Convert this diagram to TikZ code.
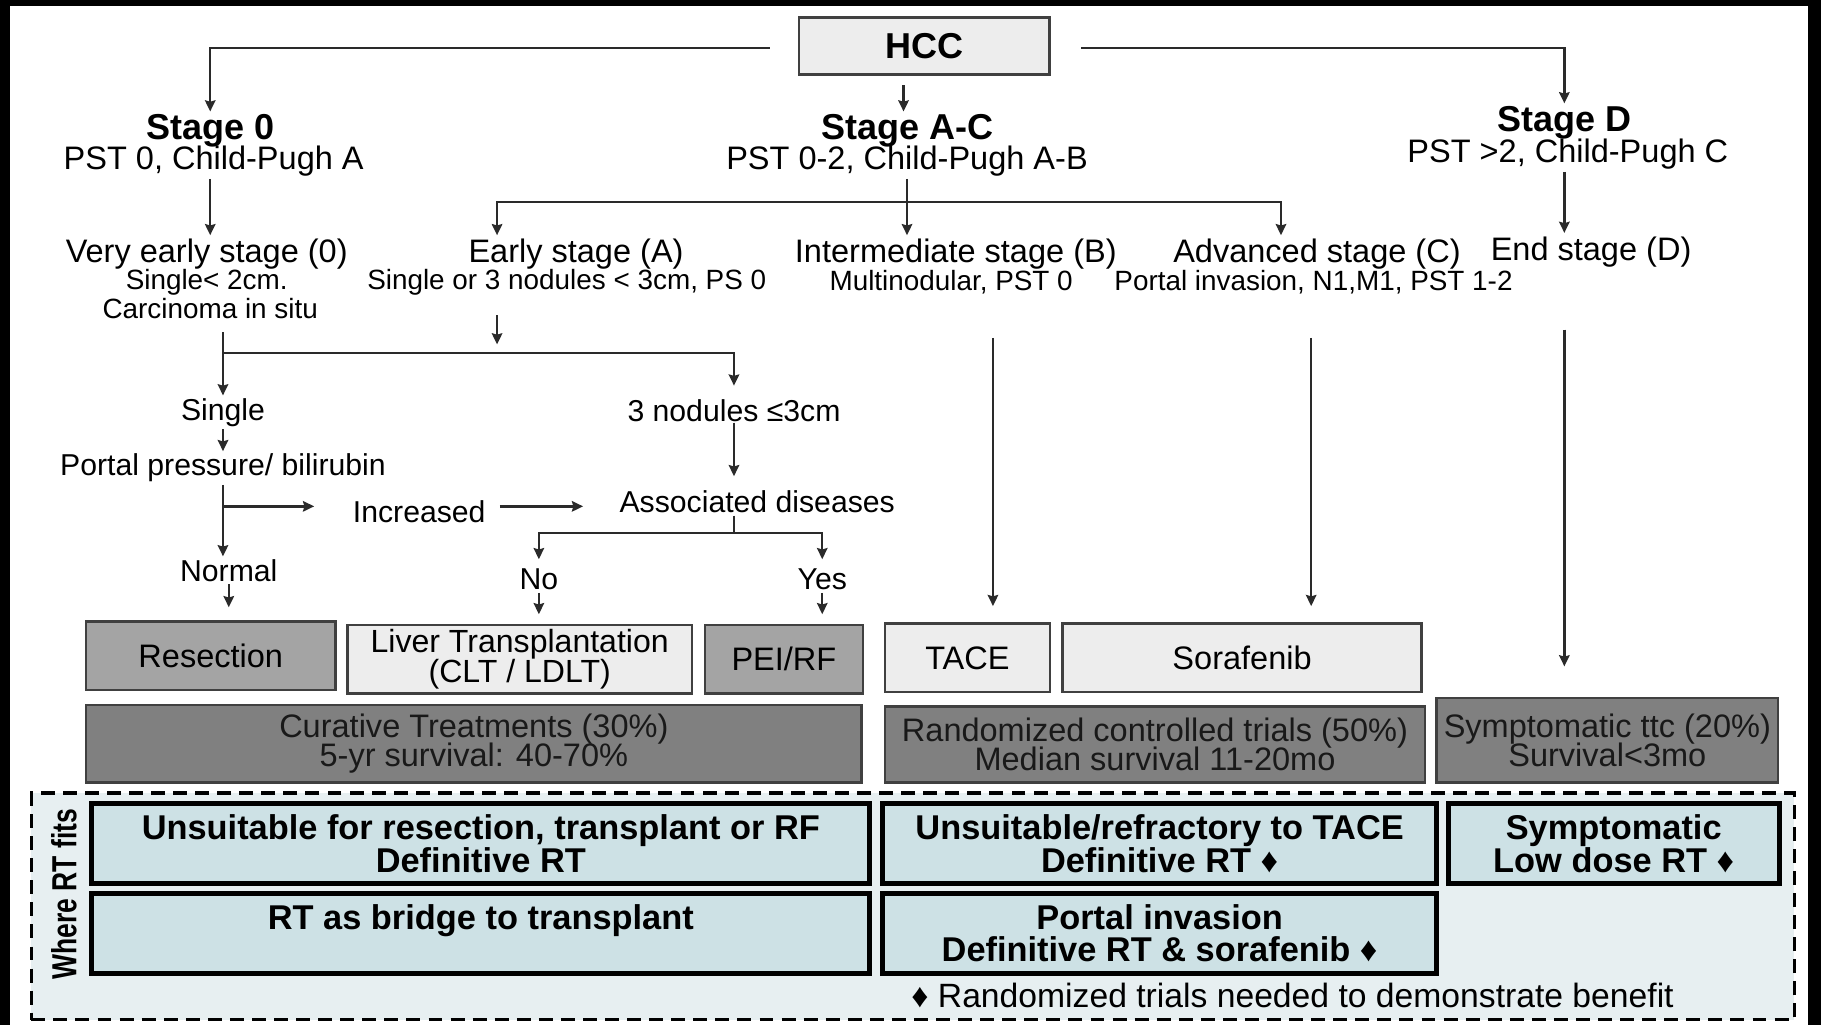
\documentclass[tikz,border=0pt]{standalone}
\usepackage{fontspec}
\setmainfont{Liberation Sans}
\usetikzlibrary{arrows.meta,calc}
\definecolor{linec}{HTML}{2A2A2A}
\definecolor{boxline}{HTML}{404040}
\definecolor{lightfill}{HTML}{EDEDED}
\definecolor{midfill}{HTML}{A4A4A4}
\definecolor{darkfill}{HTML}{808080}
\definecolor{rtfill}{HTML}{CDE1E5}
\definecolor{contfill}{HTML}{E7EFF1}
\newcommand\mytightlines{\lineskiplimit=-20pt\relax}
\begin{document}
\begin{tikzpicture}[x=0.5pt,y=-0.5pt,
  arr/.style={draw=linec, line width=1pt, -{Stealth[length=4.8pt,width=4.5pt,inset=0.6pt]}},
  ln/.style={draw=linec, line width=1pt},
  txt/.style={inner sep=0pt, text=black},
  big/.style={font=\fontsize{14}{16}\selectfont},
  sm/.style={font=\fontsize{12}{14}\selectfont},
  mid/.style={font=\fontsize{13}{15}\selectfont},
  ttl/.style={font=\bfseries\fontsize{15.5}{18}\selectfont},
  tbox/.style={draw=boxline, line width=1.1pt, minimum height=29.5pt, inner sep=0pt, align=center, font=\fontsize{14}{12}\selectfont\mytightlines},
  sbox/.style={draw=boxline, fill=darkfill, line width=1.2pt, inner sep=0pt, align=center, text=black!90, font=\fontsize{14}{12.5}\selectfont\mytightlines},
  rtbox/.style={draw=black, fill=rtfill, line width=2.2pt, minimum height=34.5pt, inner sep=0pt, align=center, font=\bfseries\fontsize{14.8}{14}\selectfont\mytightlines},
]
\useasboundingbox (0,0) rectangle (1568,883);
\fill[white] (0,0) rectangle (1568,883);
\fill[black] (0,0) rectangle (9,883);
\fill[black] (0,0) rectangle (1568,5);
\fill[black] (1557,0) rectangle (1568,883);

% top
\node[draw=boxline, fill=lightfill, line width=1.2pt, minimum width=108pt, minimum height=24.5pt, inner sep=0pt, font=\bfseries\fontsize{15.5}{18}\selectfont] (hcc) at (796,39.5) {HCC};

\node[txt,ttl] (stage0) at (181,112.5) {Stage 0};
\node[txt,big] (pst0) at (184,138.5) {PST 0, Child-Pugh A};
\node[txt,ttl] (stageAC) at (781,112.5) {Stage A-C};
\node[txt,big] (pstAC) at (781,138.5) {PST 0-2, Child-Pugh A-B};
\node[txt,ttl] (stageD) at (1347,105.5) {Stage D};
\node[txt,big] (pstD) at (1350,132.5) {PST >2, Child-Pugh C};

\node[txt,big] (vearly) at (178,219) {Very early stage (0)};
\node[txt,sm] (vearly2) at (178,243) {Single< 2cm.};
\node[txt,sm] (carc) at (181,266) {Carcinoma in situ};
\node[txt,big] (early) at (496,219) {Early stage (A)};
\node[txt,sm] (early2) at (488,243) {Single or 3 nodules < 3cm, PS 0};
\node[txt,big] (inter) at (823,219) {Intermediate stage (B)};
\node[txt,sm] (inter2) at (819,243) {Multinodular, PST 0};
\node[txt,big] (adv) at (1134,219) {Advanced stage (C)};
\node[txt,sm] (adv2) at (1131,243) {Portal invasion, N1,M1, PST 1-2};
\node[txt,big] (endD) at (1370,217) {End stage (D)};

\node[txt,mid] (single) at (192,355) {Single};
\node[txt,mid] (nod3) at (632,354) {3 nodules ≤3cm};
\node[txt,mid] (portal) at (192,403) {Portal pressure/ bilirubin};
\node[txt,mid] (assoc) at (652,432) {Associated diseases};
\node[txt,mid] (incr) at (361,441) {Increased};
\node[txt,mid] (normal) at (197,491) {Normal};
\node[txt,mid] (no) at (464,499) {No};
\node[txt,mid] (yes) at (708,499) {Yes};

% treatments
\node[tbox, fill=midfill, minimum width=107.5pt] (resec) at (181.5,564.5) {Resection};
\node[tbox, fill=lightfill, minimum width=148.5pt, font=\fontsize{13.8}{12.8}\selectfont\mytightlines] (lt) at (447.5,567.5) {Liver Transplantation\\(CLT / LDLT)};
\node[tbox, fill=midfill, minimum width=68pt] (pei) at (675,567.5) {PEI/RF};
\node[tbox, fill=lightfill, minimum width=71pt] (tace) at (833,566.5) {TACE};
\node[tbox, fill=lightfill, minimum width=154.5pt] (sora) at (1069.5,566.5) {Sorafenib};

\node[sbox, minimum width=334pt, minimum height=33.5pt] (cur) at (408,640.5) {Curative Treatments (30\%)\\5-yr survival: 40-70\%};
\node[sbox, minimum width=232.5pt, minimum height=33pt] (rct) at (994.5,641) {Randomized controlled trials (50\%)\\Median survival 11-20mo};
\node[sbox, minimum width=147pt, minimum height=36.5pt] (symp) at (1384,637.5) {Symptomatic ttc (20\%)\\Survival<3mo};

% where RT fits
\node[draw=black, fill=contfill, line width=1.5pt, dash pattern=on 6pt off 3.5pt, minimum width=759pt, minimum height=97.5pt, inner sep=0pt] (cont) at (786,780.5) {};
\node[txt, rotate=90, font=\bfseries\fontsize{15}{16}\selectfont] (where) at (55,770) {\scalebox{0.76}[1]{Where RT fits}};
\node[rtbox, minimum width=335pt] (rtA) at (414,726.5) {Unsuitable for resection, transplant or RF\\Definitive RT};
\node[rtbox, minimum width=335pt] (rtB) at (414,803.5) {RT as bridge to transplant\\\mbox{}};
\node[rtbox, minimum width=238.5pt] (rtC) at (998.5,726.5) {Unsuitable/refractory to TACE\\Definitive RT ♦};
\node[rtbox, minimum width=238.5pt] (rtD) at (998.5,803.5) {Portal invasion\\Definitive RT \& sorafenib ♦};
\node[rtbox, minimum width=142.5pt] (rtE) at (1389.5,726.5) {Symptomatic\\Low dose RT ♦};
\node[txt, font=\fontsize{14.5}{16}\selectfont] (foot) at (1113,857) {♦ Randomized trials needed to demonstrate benefit};

% connectors
\coordinate (yAC) at (0,174);
\coordinate (ySplit) at (0,304);
\coordinate (yInc) at (0,436);
\coordinate (yAD) at (0,459);

\draw[arr] ($(hcc.west)+(-24,2)$) -| ($(stage0.north)+(0,-2)$);
\draw[arr] ($(hcc.east)+(26,2)$) -| ($(stageD.north)+(0,-2)$);
\draw[arr] ($(hcc.south -| stageAC.north)+(-3,8)$) -- ($(stageAC.north)+(-3,-2)$);

\draw[arr] ($(pst0.south -| stage0)+(0,2)$) -- ($(vearly.north -| stage0)+(0,-3)$);
\draw[arr] ($(pstAC.south)+(0,2)$) -- ($(inter.north -| pstAC.south)+(0,-3)$);
\draw[arr] (pstAC.south |- yAC) -| ($(early.north)+(-68,-3)$);
\draw[arr] (pstAC.south |- yAC) -| ($(adv.north)+(-31,-3)$);
\draw[arr] ($(pstD.south -| stageD)+(0,2)$) -- ($(endD.north -| stageD)+(0,-3)$);

\draw[arr] ($(early2.south)+(-60,17)$) -- ($(early2.south)+(-60,42)$);
\draw[arr] ($(carc.south -| single)+(0,11)$) -- ($(single.north)+(0,-2)$);
\draw[arr, shorten >=6pt] (single |- ySplit) -| (nod3.north);
\draw[arr] ($(single.south)+(0,2)$) -- ($(portal.north -| single.south)+(0,-2)$);
\draw[arr, shorten >=6pt] (nod3.south) -- (assoc.north -| nod3.south);
\draw[arr] ($(portal.south)+(0,2)$) -- ($(normal.north -| portal.south)+(0,-2)$);
\draw[arr] (portal.south |- yInc) -- ($(incr.west |- yInc)+(-33,0)$);
\draw[arr] ($(incr.east |- yInc)+(12,0)$) -- ($(assoc.west |- yInc)+(-31,0)$);
\draw[ln] ($(assoc.south -| nod3.south)+(0,2)$) -- (nod3.south |- yAD);
\draw[arr, shorten >=4pt] (nod3.south |- yAD) -| (no.north);
\draw[arr, shorten >=4pt] (nod3.south |- yAD) -| (yes.north);
\draw[arr] ($(no.south)+(0,2)$) -- ($(lt.north -| no.south)+(0,-8)$);
\draw[arr] ($(yes.south)+(0,2)$) -- ($(pei.north -| yes.south)+(0,-8)$);
\draw[arr] ($(normal.south)+(0,2)$) -- ($(resec.north -| normal.south)+(0,-11)$);

\draw[arr] ($(tace.north)+(22,-245)$) -- ($(tace.north)+(22,-14)$);
\draw[arr] ($(sora.north)+(59.5,-245)$) -- ($(sora.north)+(59.5,-14)$);
\draw[arr] ($(symp.north)+(-37,-316)$) -- ($(symp.north)+(-37,-26)$);
\end{tikzpicture}
\end{document}
